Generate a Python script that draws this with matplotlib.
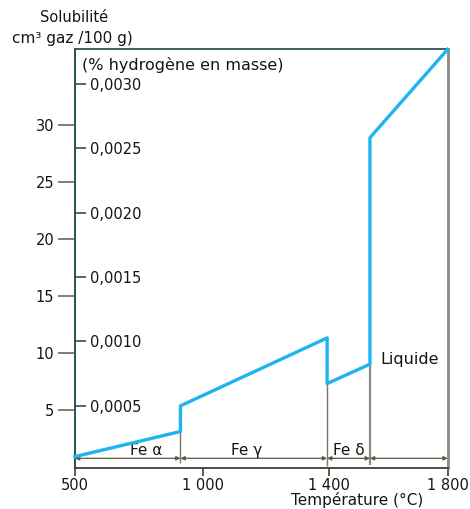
import numpy as np
import matplotlib

matplotlib.use("Agg")
import matplotlib.pyplot as plt

matplotlib.rcParams.update({
    "font.family": ["DejaVu Sans"],
    "font.size": 10.5,
    "text.color": "#151515",
    "xtick.color": "#151515",
    "ytick.color": "#151515",
})

# Courbe de solubilité de l'hydrogène dans le fer
TEMPERATURES = [500, 912, 912, 1394, 1394, 1538, 1538, 1800]
SOLUBILITE = [0.9, 3.1, 5.35, 11.3, 7.3, 9.0, 28.85, 36.6]

# Transformations de phase et domaines
TRANSITIONS = [912, 1394, 1538]
PHASES = [("Fe α", 500, 912, 777), ("Fe γ", 912, 1394, 1140),
          ("Fe δ", 1394, 1538, 1467), ("", 1538, 1800, 1670)]

X_TICKS = [500, 1000, 1400, 1800]
X_TICK_LABELS = ["500", "1 000", "1 400", "1 800"]
Y_TICKS = [5, 10, 15, 20, 25, 30]
MASSE_TICKS = [0.0005, 0.0010, 0.0015, 0.0020, 0.0025, 0.0030]
MASSE_TICK_LABELS = ["0,0005", "0,0010", "0,0015", "0,0020", "0,0025", "0,0030"]

# l'échelle des températures du schéma n'est pas linéaire
X_REF = [500, 1000, 1400, 1800]
X_POS = [0.0, 128.0, 254.0, 372.7]

BLUE = "#1db4ef"
TEAL = "#2b5656"
OLIVE = "#77775e"
GREY = "#8a8a80"
DARK = "#3f3f30"


def temp_forward(t):
    return np.interp(t, X_REF, X_POS)


def temp_inverse(p):
    return np.interp(p, X_POS, X_REF)


def sol_to_masse(s):
    return (np.asarray(s) + 0.26) / 11268.0


def masse_to_sol(m):
    return np.asarray(m) * 11268.0 - 0.26


fig = plt.figure(figsize=(4.7, 5.09), dpi=100)
ax = fig.add_axes([75 / 470, 41 / 509, 372.7 / 470, 418.7 / 509])

ax.set_xscale("function", functions=(temp_forward, temp_inverse))
ax.set_xlim(500, 1800)
ax.set_ylim(-0.1, 36.6)

ax.plot(TEMPERATURES, SOLUBILITE, color=BLUE, linewidth=2.4, clip_on=False, zorder=4)

# lignes verticales aux transitions
ymins = [0.3, 0.1, 0.15]
tops = [SOLUBILITE[1], SOLUBILITE[4], SOLUBILITE[5]]
for t, y0, y1 in zip(TRANSITIONS, ymins, tops):
    lw = 1.6 if t == 1538 else 1.0
    col = GREY if t == 1538 else OLIVE
    ax.vlines(t, y0, y1, color=col, linewidth=lw, zorder=3)

# flèches des domaines
for name, t0, t1, t_label in PHASES:
    ax.annotate("", xy=(t0, 0.75), xytext=(t1, 0.75),
                arrowprops=dict(arrowstyle="<|-|>", color="#5a5a40", lw=0.9,
                                mutation_scale=6, shrinkA=0, shrinkB=0))
    if name:
        ax.text(t_label, 1.05, name, ha="center", va="baseline", fontsize=11)

ax.text(1572, 9.4, "Liquide", ha="left", va="center", fontsize=11.5)

for side in ["left", "top"]:
    ax.spines[side].set_color(TEAL)
    ax.spines[side].set_linewidth(1.3)
ax.spines["right"].set_color(GREY)
ax.spines["right"].set_linewidth(2.0)
ax.spines["bottom"].set_color(DARK)
ax.spines["bottom"].set_linewidth(1.3)

ax.set_xticks(X_TICKS)
ax.set_xticklabels(X_TICK_LABELS)
ax.xaxis.set_minor_locator(matplotlib.ticker.NullLocator())
ax.tick_params(axis="x", direction="out", length=6, width=1.2, color=DARK, pad=1.5)

ax.set_yticks(Y_TICKS)
ax.tick_params(axis="y", direction="out", length=12, width=1.3, color=OLIVE, pad=3)

sec = ax.secondary_yaxis(0.0, functions=(sol_to_masse, masse_to_sol))
sec.set_alignment("right")
sec.set_yticks(MASSE_TICKS)
sec.set_yticklabels(MASSE_TICK_LABELS)
sec.spines["right"].set_color(TEAL)
sec.spines["right"].set_linewidth(1.3)
sec.tick_params(axis="y", direction="out", length=8, width=1.2, color=TEAL, pad=3)

ax.text(7 / 372.7, 1 - 16 / 418.7, "(% hydrogène en masse)", transform=ax.transAxes,
        ha="left", va="center", fontsize=11.5)

fig.text(74 / 470, 1 - 18 / 509, "Solubilité", ha="center", va="center")
fig.text(12 / 470, 1 - 38 / 509, "cm³ gaz /100 g)", ha="left", va="center", fontsize=11)
fig.text(357 / 470, 1 - 500 / 509, "Température (°C)", ha="center", va="center", fontsize=11)

fig.savefig("out.png", dpi=100)
